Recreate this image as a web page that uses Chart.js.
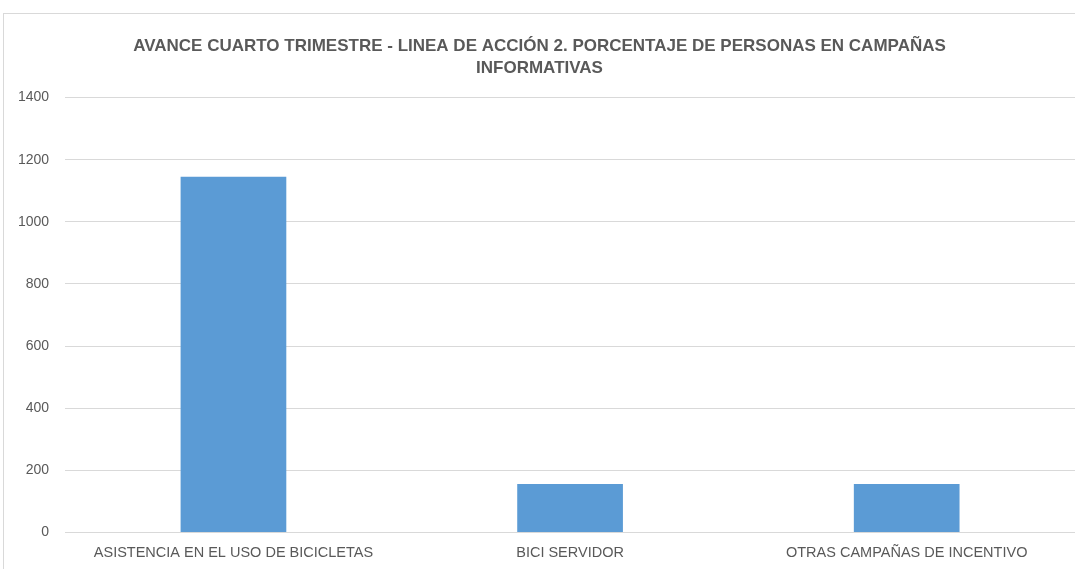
<!DOCTYPE html>
<html>
<head>
<meta charset="utf-8">
<script src="https://cdn.jsdelivr.net/npm/chart.js@4"></script>
<style>
  html, body { margin: 0; padding: 0; background: #fff; }
  #frame { position: absolute; left: 3px; top: 13px; width: 1100px; height: 600px; border: 1px solid #d9d9d9; }
  #wrap { position: absolute; left: 0; top: 0; width: 1075px; height: 569px; }
</style>
</head>
<body>
<div id="frame"></div>
<div id="wrap"><canvas id="chart"></canvas></div>
<script>
const categories = ['ASISTENCIA EN EL USO DE BICICLETAS', 'BICI SERVIDOR', 'OTRAS CAMPAÑAS DE INCENTIVO'];
const values = [1145, 156, 156];
const titleLines = ['AVANCE CUARTO TRIMESTRE - LINEA DE ACCIÓN 2. PORCENTAJE DE PERSONAS EN CAMPAÑAS', 'INFORMATIVAS'];

const ctx = document.getElementById('chart').getContext('2d');
const chart = new Chart(ctx, {
    type: 'bar',
    data: {
        labels: categories,
        datasets: [{
            data: values,
            backgroundColor: '#5b9bd5',
            barPercentage: 0.314,
            categoryPercentage: 1
        }]
    },
    options: {
        responsive: true,
        maintainAspectRatio: false,
        animation: false,
        layout: { padding: { left: 2, right: -2, top: 36, bottom: 3 } },
        plugins: {
            legend: { display: false },
            tooltip: { enabled: false },
            title: {
                display: true,
                text: titleLines,
                color: '#595959',
                font: { family: 'Liberation Sans', size: 17, weight: 'bold', lineHeight: 1.25 },
                padding: { top: 0, bottom: 19 }
            }
        },
        scales: {
            x: {
                grid: { display: false },
                border: { display: false },
                ticks: { color: '#595959', font: { family: 'Liberation Sans', size: 14.5 }, padding: 4, maxRotation: 0 }
            },
            y: {
                min: 0,
                max: 1400,
                ticks: {
                    stepSize: 200,
                    color: '#595959',
                    font: { family: 'Liberation Sans', size: 14 },
                    padding: 16,
                    callback: v => String(v)
                },
                grid: { color: '#d9d9d9', drawTicks: false },
                border: { display: false }
            }
        }
    }
});
</script>
</body>
</html>
